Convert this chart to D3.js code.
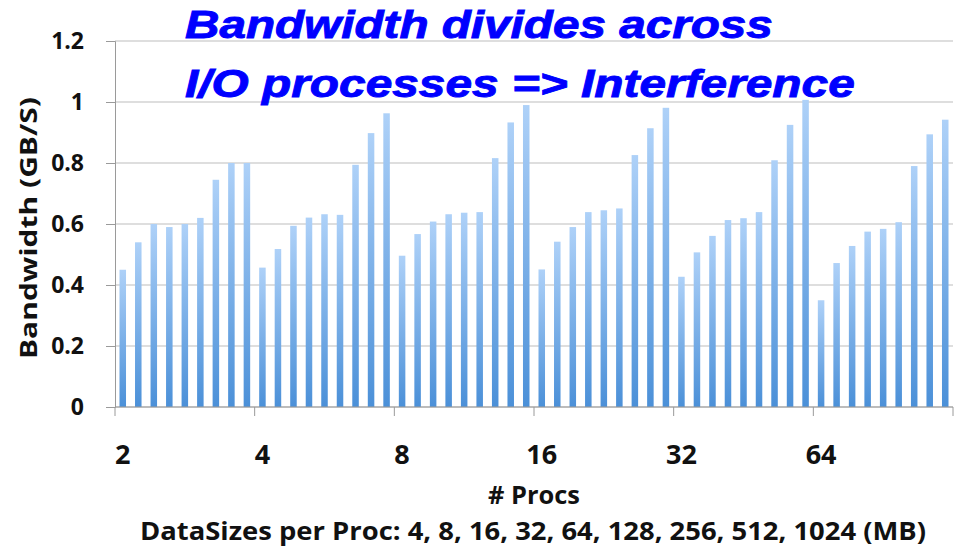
<!DOCTYPE html>
<html>
<head>
<meta charset="utf-8">
<script src="https://cdn.jsdelivr.net/npm/d3@7"></script>
<style>
  body { margin: 0; background: #fff; }
  text { font-family: "Open Sans", "Liberation Sans", sans-serif; }
</style>
</head>
<body>
<div id="chart"></div>
<script>
// # procs groups, data sizes per proc (MB)
const procs = ["2", "4", "8", "16", "32", "64"];
const dataSizes = [4, 8, 16, 32, 64, 128, 256, 512, 1024];

// bandwidth (GB/s), one array per proc count, in dataSizes order
const bw2  = [0.45, 0.54, 0.60, 0.59, 0.60, 0.62, 0.745, 0.80, 0.80];
const bw4  = [0.457, 0.518, 0.594, 0.621, 0.632, 0.630, 0.794, 0.898, 0.963];
const bw8  = [0.496, 0.567, 0.608, 0.632, 0.637, 0.639, 0.816, 0.933, 0.99];
const bw16 = [0.451, 0.542, 0.590, 0.639, 0.645, 0.651, 0.826, 0.914, 0.981];
const bw32 = [0.427, 0.507, 0.561, 0.613, 0.619, 0.639, 0.809, 0.925, 1.007];
const bw64 = [0.350, 0.472, 0.528, 0.575, 0.584, 0.606, 0.790, 0.894, 0.942];

const yTicks = [0, 0.2, 0.4, 0.6, 0.8, 1, 1.2];

const series = [bw2, bw4, bw8, bw16, bw32, bw64];

// flatten to one category per bar
let data = [];
procs.forEach((p, i) => {
  dataSizes.forEach((s, j) => {
    data.push({ key: p + "-" + s, proc: p, size: s, value: series[i][j], first: j === 0 });
  });
});

const width = 961, height = 552;
const margin = { top: 41, right: 8, bottom: 145, left: 115 };
const innerW = 953 - margin.left;
const innerH = 407 - margin.top;

const svg = d3.select("#chart").append("svg")
  .attr("width", width)
  .attr("height", height);

const defs = svg.append("defs");
const grad = defs.append("linearGradient")
  .attr("id", "barGrad")
  .attr("x1", 0).attr("y1", 0).attr("x2", 0).attr("y2", 1);
grad.append("stop").attr("offset", "0%").attr("stop-color", "#aed1f8");
grad.append("stop").attr("offset", "100%").attr("stop-color", "#4b90d8");

const g = svg.append("g")
  .attr("transform", `translate(${margin.left}, ${margin.top})`);

const x = d3.scaleBand()
  .domain(data.map(d => d.key))
  .range([0, innerW])
  .paddingInner(0.58)
  .paddingOuter(0.29);

const y = d3.scaleLinear()
  .domain([0, 1.2])
  .range([innerH, 0]);

// gridlines
g.append("g")
  .selectAll("line")
  .data(yTicks)
  .join("line")
  .attr("x1", 0)
  .attr("x2", innerW)
  .attr("y1", d => y(d))
  .attr("y2", d => y(d))
  .attr("stroke", "#bdbdbd")
  .attr("stroke-width", 1.2);

// y axis
const yAxis = g.append("g")
  .call(d3.axisLeft(y).tickValues(yTicks).tickSize(9).tickPadding(22)
    .tickFormat(d => d3.format("")(+d.toFixed(1))));
yAxis.select(".domain").attr("stroke", "#9a9a9a");
yAxis.selectAll(".tick line").attr("stroke", "#9a9a9a");
yAxis.selectAll("text")
  .attr("fill", "#111")
  .style("font-size", "23px")
  .style("font-weight", "bold");

// bars
g.append("g")
  .selectAll("rect")
  .data(data)
  .join("rect")
  .attr("x", d => x(d.key))
  .attr("width", x.bandwidth())
  .attr("y", d => y(d.value))
  .attr("height", d => innerH - y(d.value))
  .attr("fill", "url(#barGrad)");

// x axis: ticks at group boundaries, labels at first bar of each group
const step = x.step();
const groupEdges = d3.range(procs.length + 1).map(i => i * dataSizes.length * step);
const xAxis = g.append("g").attr("transform", `translate(0, ${innerH})`);
xAxis.append("line")
  .attr("x1", 0).attr("x2", innerW)
  .attr("stroke", "#9a9a9a").attr("stroke-width", 1.2);
xAxis.selectAll(".xtick")
  .data(groupEdges)
  .join("line")
  .attr("class", "xtick")
  .attr("x1", d => d).attr("x2", d => d)
  .attr("y1", 0).attr("y2", 9)
  .attr("stroke", "#9a9a9a");
xAxis.selectAll(".xlabel")
  .data(data.filter(d => d.first))
  .join("text")
  .attr("class", "xlabel")
  .attr("x", d => x(d.key) + x.bandwidth() / 2)
  .attr("y", 57)
  .attr("text-anchor", "middle")
  .attr("fill", "#111")
  .style("font-size", "27px")
  .style("font-weight", "bold")
  .text(d => d.proc);

// axis titles
svg.append("text")
  .attr("transform", "translate(37, 228) rotate(-90)")
  .attr("text-anchor", "middle")
  .attr("fill", "#111")
  .attr("textLength", 262)
  .attr("lengthAdjust", "spacingAndGlyphs")
  .style("font-size", "23px")
  .style("font-weight", "bold")
  .text("Bandwidth (GB/S)");

svg.append("text")
  .attr("x", 534)
  .attr("y", 504)
  .attr("text-anchor", "middle")
  .attr("fill", "#111")
  .attr("textLength", 92)
  .attr("lengthAdjust", "spacingAndGlyphs")
  .style("font-size", "25px")
  .style("font-weight", "bold")
  .text("# Procs");

svg.append("text")
  .attr("x", 533)
  .attr("y", 540)
  .attr("text-anchor", "middle")
  .attr("fill", "#111")
  .attr("textLength", 786)
  .attr("lengthAdjust", "spacingAndGlyphs")
  .style("font-size", "25px")
  .style("font-weight", "bold")
  .text("DataSizes per Proc: " + dataSizes.join(", ") + " (MB)");

// overlay title, horizontally stretched like the original slide
const title = svg.append("g")
  .attr("fill", "#0000ff")
  .attr("stroke", "#0000ff")
  .attr("stroke-width", 0.9)
  .style("font-family", "'Liberation Sans', Arial, sans-serif")
  .style("font-size", "39px")
  .style("font-weight", "bold")
  .style("font-style", "italic");
const titleLines = [
  { text: "Bandwidth divides across", y: 38, w: 588 },
  { text: "I/O processes => Interference", y: 97, w: 670 }
];
titleLines.forEach(l => {
  const t = title.append("text")
    .attr("x", 0).attr("y", 0)
    .style("font-family", "'Liberation Sans', Arial, sans-serif")
    .text(l.text);
  const natural = t.node().getComputedTextLength();
  t.attr("transform", `translate(185, ${l.y}) scale(${l.w / natural}, 1)`);
});
</script>
</body>
</html>
